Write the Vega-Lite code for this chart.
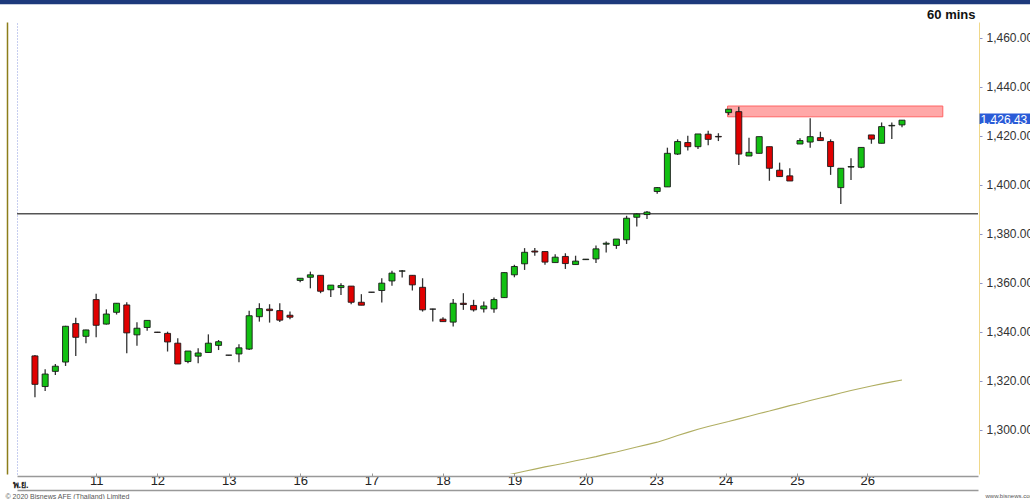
{
  "$schema": "https://vega.github.io/schema/vega-lite/v6.json",
  "width": 961,
  "height": 452,
  "autosize": {"type": "none"},
  "padding": {"left": 17, "top": 22, "right": 52, "bottom": 25},
  "background": "white",
  "config": {"view": {"stroke": null}, "font": "Liberation Sans", "scale": {"continuousPadding": 0}},
  "title": {"text": "SET", "anchor": "start", "frame": "group", "orient": "top", "fontSize": 14, "fontWeight": "bold", "color": "#111", "baseline": "alphabetic", "offset": 4, "dx": -3, "font": "Liberation Sans"},
  "datasets": {
    "candles": [
      {"i":0,"o":1330.2,"h":1330.6,"l":1313.3,"c":1318.6},
      {"i":1,"o":1317.7,"h":1324.8,"l":1315.9,"c":1322.8},
      {"i":2,"o":1323.9,"h":1326.9,"l":1322.4,"c":1326.0},
      {"i":3,"o":1327.7,"h":1342.5,"l":1326.1,"c":1342.3},
      {"i":4,"o":1343.4,"h":1345.8,"l":1330.2,"c":1337.8},
      {"i":5,"o":1338.2,"h":1340.9,"l":1335.4,"c":1340.8},
      {"i":6,"o":1353.2,"h":1355.6,"l":1337.8,"c":1342.7},
      {"i":7,"o":1343.2,"h":1349.2,"l":1343.0,"c":1347.3},
      {"i":8,"o":1348.0,"h":1351.8,"l":1347.1,"c":1351.7},
      {"i":9,"o":1351.0,"h":1352.1,"l":1331.3,"c":1339.6},
      {"i":10,"o":1338.8,"h":1343.9,"l":1334.4,"c":1341.5},
      {"i":11,"o":1341.8,"h":1344.7,"l":1340.5,"c":1344.7},
      {"i":12,"o":1339.9,"h":1340.0,"l":1339.7,"c":1339.8},
      {"i":13,"o":1339.4,"h":1340.1,"l":1332.0,"c":1335.9},
      {"i":14,"o":1335.4,"h":1337.4,"l":1326.9,"c":1326.9},
      {"i":15,"o":1327.9,"h":1332.2,"l":1327.2,"c":1332.2},
      {"i":16,"o":1330.1,"h":1333.3,"l":1327.2,"c":1331.4},
      {"i":17,"o":1331.6,"h":1339.0,"l":1331.6,"c":1335.4},
      {"i":18,"o":1334.5,"h":1336.7,"l":1332.6,"c":1336.0},
      {"i":19,"o":1330.5,"h":1330.6,"l":1330.4,"c":1330.5},
      {"i":20,"o":1331.0,"h":1335.0,"l":1327.6,"c":1333.5},
      {"i":21,"o":1333.0,"h":1348.6,"l":1332.6,"c":1346.6},
      {"i":22,"o":1346.2,"h":1351.7,"l":1344.2,"c":1349.5},
      {"i":23,"o":1349.3,"h":1351.3,"l":1343.8,"c":1348.7},
      {"i":24,"o":1348.7,"h":1351.7,"l":1344.0,"c":1344.8},
      {"i":25,"o":1346.8,"h":1348.3,"l":1345.2,"c":1346.0},
      {"i":26,"o":1361.0,"h":1361.9,"l":1360.3,"c":1361.9},
      {"i":27,"o":1362.3,"h":1364.6,"l":1357.8,"c":1363.3},
      {"i":28,"o":1363.1,"h":1363.1,"l":1355.8,"c":1356.6},
      {"i":29,"o":1357.2,"h":1359.1,"l":1354.2,"c":1359.1},
      {"i":30,"o":1358.1,"h":1359.9,"l":1355.1,"c":1358.9},
      {"i":31,"o":1358.7,"h":1358.7,"l":1351.3,"c":1352.1},
      {"i":32,"o":1352.1,"h":1355.4,"l":1350.9,"c":1350.9},
      {"i":33,"o":1356.2,"h":1356.3,"l":1356.1,"c":1356.2},
      {"i":34,"o":1356.9,"h":1361.9,"l":1352.0,"c":1359.9},
      {"i":35,"o":1360.8,"h":1365.0,"l":1358.8,"c":1364.0},
      {"i":36,"o":1364.8,"h":1365.3,"l":1362.2,"c":1364.9},
      {"i":37,"o":1363.1,"h":1363.1,"l":1356.9,"c":1359.2},
      {"i":38,"o":1358.2,"h":1361.9,"l":1348.3,"c":1349.0},
      {"i":39,"o":1349.3,"h":1349.5,"l":1344.2,"c":1349.3},
      {"i":40,"o":1345.2,"h":1346.0,"l":1344.2,"c":1344.2},
      {"i":41,"o":1344.0,"h":1353.4,"l":1342.2,"c":1351.7},
      {"i":42,"o":1351.7,"h":1355.8,"l":1349.0,"c":1351.2},
      {"i":43,"o":1350.8,"h":1353.1,"l":1348.3,"c":1349.0},
      {"i":44,"o":1349.4,"h":1352.4,"l":1347.9,"c":1350.6},
      {"i":45,"o":1349.4,"h":1354.0,"l":1347.8,"c":1353.2},
      {"i":46,"o":1354.0,"h":1364.4,"l":1353.8,"c":1364.2},
      {"i":47,"o":1363.3,"h":1367.4,"l":1362.3,"c":1366.7},
      {"i":48,"o":1367.8,"h":1374.2,"l":1365.3,"c":1372.5},
      {"i":49,"o":1373.0,"h":1374.2,"l":1371.1,"c":1372.6},
      {"i":50,"o":1372.8,"h":1372.8,"l":1367.4,"c":1368.5},
      {"i":51,"o":1368.3,"h":1371.7,"l":1368.3,"c":1370.5},
      {"i":52,"o":1370.8,"h":1372.1,"l":1365.7,"c":1367.9},
      {"i":53,"o":1367.5,"h":1371.1,"l":1367.5,"c":1368.9},
      {"i":54,"o":1369.5,"h":1369.8,"l":1369.4,"c":1369.7},
      {"i":55,"o":1369.8,"h":1375.3,"l":1368.1,"c":1373.9},
      {"i":56,"o":1375.8,"h":1376.9,"l":1372.4,"c":1376.2},
      {"i":57,"o":1375.3,"h":1377.9,"l":1373.9,"c":1377.9},
      {"i":58,"o":1377.6,"h":1387.4,"l":1375.9,"c":1386.4},
      {"i":59,"o":1386.8,"h":1388.5,"l":1383.0,"c":1388.1},
      {"i":60,"o":1387.9,"h":1389.4,"l":1386.1,"c":1388.9},
      {"i":61,"o":1397.3,"h":1399.2,"l":1396.4,"c":1398.9},
      {"i":62,"o":1399.2,"h":1415.2,"l":1399.2,"c":1412.9},
      {"i":63,"o":1412.6,"h":1418.6,"l":1412.2,"c":1417.7},
      {"i":64,"o":1417.3,"h":1420.1,"l":1414.0,"c":1415.6},
      {"i":65,"o":1415.6,"h":1420.8,"l":1414.7,"c":1420.8},
      {"i":66,"o":1420.7,"h":1422.1,"l":1416.2,"c":1418.6},
      {"i":67,"o":1419.8,"h":1421.1,"l":1417.9,"c":1419.6},
      {"i":68,"o":1429.5,"h":1430.9,"l":1428.5,"c":1430.9},
      {"i":69,"o":1429.9,"h":1431.9,"l":1408.1,"c":1412.6},
      {"i":70,"o":1411.8,"h":1419.3,"l":1411.8,"c":1413.3},
      {"i":71,"o":1412.9,"h":1419.7,"l":1412.9,"c":1419.7},
      {"i":72,"o":1415.6,"h":1415.6,"l":1401.7,"c":1406.8},
      {"i":73,"o":1406.0,"h":1409.1,"l":1403.4,"c":1403.4},
      {"i":74,"o":1403.7,"h":1406.8,"l":1401.6,"c":1401.6},
      {"i":75,"o":1416.7,"h":1419.0,"l":1416.7,"c":1418.1},
      {"i":76,"o":1417.5,"h":1427.2,"l":1415.2,"c":1419.7},
      {"i":77,"o":1419.3,"h":1421.7,"l":1418.1,"c":1418.1},
      {"i":78,"o":1417.7,"h":1418.6,"l":1404.1,"c":1407.5},
      {"i":79,"o":1398.9,"h":1406.8,"l":1392.2,"c":1406.8},
      {"i":80,"o":1407.3,"h":1410.9,"l":1402.0,"c":1407.5},
      {"i":81,"o":1407.2,"h":1415.3,"l":1406.8,"c":1415.3},
      {"i":82,"o":1420.4,"h":1420.4,"l":1416.8,"c":1418.7},
      {"i":83,"o":1417.0,"h":1425.5,"l":1417.0,"c":1423.8},
      {"i":84,"o":1424.1,"h":1425.5,"l":1418.7,"c":1424.3},
      {"i":85,"o":1424.5,"h":1426.5,"l":1423.5,"c":1426.43}
    ],
    "ma": [
      {"i":46,"ma":1281.3},{"i":47,"ma":1282.2},{"i":48,"ma":1283.1},{"i":49,"ma":1284.0},{"i":50,"ma":1284.9},
      {"i":51,"ma":1285.7},{"i":52,"ma":1286.5},{"i":53,"ma":1287.4},{"i":54,"ma":1288.2},{"i":55,"ma":1289.1},
      {"i":56,"ma":1290.1},{"i":57,"ma":1291.0},{"i":58,"ma":1292.0},{"i":59,"ma":1293.0},{"i":60,"ma":1294.0},
      {"i":61,"ma":1295.0},{"i":62,"ma":1296.3},{"i":63,"ma":1297.7},{"i":64,"ma":1299.0},{"i":65,"ma":1300.3},
      {"i":66,"ma":1301.4},{"i":67,"ma":1302.4},{"i":68,"ma":1303.4},{"i":69,"ma":1304.5},{"i":70,"ma":1305.6},
      {"i":71,"ma":1306.7},{"i":72,"ma":1307.7},{"i":73,"ma":1308.8},{"i":74,"ma":1309.9},{"i":75,"ma":1310.9},
      {"i":76,"ma":1312.0},{"i":77,"ma":1313.0},{"i":78,"ma":1314.0},{"i":79,"ma":1315.1},{"i":80,"ma":1316.1},
      {"i":81,"ma":1317.0},{"i":82,"ma":1317.9},{"i":83,"ma":1318.8},{"i":84,"ma":1319.6},{"i":85,"ma":1320.4}
    ],
    "level": [{"price": 1388.2}],
    "zone": [{"start": 67.9, "end": 89.0, "low": 1427.8, "high": 1432.2}],
    "last": [{"price": 1426.43, "label": "1,426.43"}]
  },
  "layer": [
    {
      "data": {"values": [{}]},
      "mark": {"type": "rect", "color": "#1d3a7c", "clip": false},
      "encoding": {
        "x": {"datum": -3.5, "type": "quantitative", "axis": null},
        "x2": {"datum": 97.6},
        "y": {"datum": 1473.7, "type": "quantitative", "axis": null},
        "y2": {"datum": 1475.8}
      }
    },
    {
      "data": {"name": "zone"},
      "mark": {"type": "rect", "fill": "#ffa8a8", "stroke": "#ff6464", "strokeWidth": 1},
      "encoding": {
        "x": {"field": "start", "type": "quantitative", "axis": null},
        "x2": {"field": "end"},
        "y": {"field": "low", "type": "quantitative", "axis": null},
        "y2": {"field": "high"}
      }
    },
    {
      "data": {"name": "level"},
      "mark": {"type": "rule", "color": "#555555", "strokeWidth": 1.6},
      "encoding": {
        "y": {"field": "price", "type": "quantitative", "axis": null}
      }
    },
    {
      "data": {"name": "ma"},
      "mark": {"type": "line", "color": "#b0ae62", "strokeWidth": 1.1, "clip": true},
      "encoding": {
        "x": {"field": "i", "type": "quantitative", "axis": {"orient": "bottom", "offset": 16, "labels": false, "ticks": false, "domain": false, "grid": false, "title": "www.bisnews.com", "titleX": 968, "titleY": 5, "titleAlign": "left", "titleBaseline": "middle", "titleFontSize": 6, "titleFontWeight": "normal", "titleColor": "#555555"}},
        "y": {"field": "ma", "type": "quantitative", "axis": {"orient": "left", "offset": 10, "labels": false, "ticks": false, "grid": false, "domainColor": "#8c7d1a", "domainWidth": 1.5, "title": null}}
      }
    },
    {
      "data": {"name": "candles"},
      "mark": {"type": "rule", "color": "#333333", "strokeWidth": 1.3},
      "encoding": {
        "x": {"field": "i", "type": "quantitative", "scale": {"domain": [-1.76, 92.45], "nice": false, "zero": false, "padding": 0},
          "axis": {"orient": "bottom", "offset": 2, "values": [6, 12, 19, 26, 33, 40, 47, 54, 60.9, 67.7, 74.7, 81.6],
            "labelExpr": "['11','12','13','16','17','18','19','20','23','24','25','26'][indexof([6,12,19,26,33,40,47,54,61,68,75,82], round(datum.value))]",
            "labelFontSize": 13, "labelColor": "#222222", "labelPadding": 1, "labelFont": "Liberation Sans",
            "domainColor": "#999999", "domainWidth": 1.5, "tickColor": "#999999", "tickSize": -3, "grid": false,
            "title": "พ.ย.", "titleX": -5, "titleY": 8, "titleAlign": "left", "titleBaseline": "middle", "titleFontSize": 9, "titleFontWeight": "bold", "titleColor": "#222222"}},
        "y": {"field": "l", "type": "quantitative", "scale": {"domain": [1282, 1466.5], "nice": false, "zero": false},
          "axis": {"orient": "right", "values": [1300, 1320, 1340, 1360, 1380, 1400, 1420, 1440, 1460], "format": ",.2f",
            "labelFontSize": 12, "labelColor": "#333333", "labelFont": "Liberation Sans", "labelPadding": 4,
            "grid": false, "domainColor": "#f0d88a", "tickColor": "#8a94c8", "tickSize": 3, "offset": 1,
            "title": "60 mins", "titleAngle": 0, "titleAlign": "right", "titleBaseline": "alphabetic", "titleX": -4, "titleY": -4,
            "titleFontSize": 13, "titleFontWeight": "bold", "titleColor": "#111111"}},
        "y2": {"field": "h"}
      }
    },
    {
      "data": {"name": "candles"},
      "mark": {"type": "bar", "size": 6, "stroke": "#1a1a1a", "strokeWidth": 0.9},
      "encoding": {
        "x": {"field": "i", "type": "quantitative", "axis": {"orient": "bottom", "offset": 16, "labels": false, "ticks": false, "grid": false, "domainColor": "#999999", "domainWidth": 1.5,
          "title": "© 2020 Bisnews AFE (Thailand) Limited", "titleX": -12, "titleY": 6, "titleAlign": "left", "titleBaseline": "middle", "titleFontSize": 7, "titleFontWeight": "normal", "titleColor": "#555555"}},
        "y": {"field": "o", "type": "quantitative", "axis": {"orient": "left", "labels": false, "ticks": false, "grid": false, "domainColor": "#8f9ce0", "domainDash": [1, 2], "title": null}},
        "y2": {"field": "c"},
        "color": {"condition": {"test": "datum.c >= datum.o", "value": "#12c012"}, "value": "#e00000"}
      }
    },
    {
      "data": {"name": "last"},
      "mark": {"type": "rect", "color": "#2a5bd7", "clip": false},
      "encoding": {
        "x": {"datum": 92.6, "type": "quantitative", "axis": null},
        "x2": {"datum": 97.6},
        "y": {"datum": 1424.9, "type": "quantitative", "axis": null},
        "y2": {"datum": 1429.1}
      }
    },
    {
      "data": {"name": "last"},
      "mark": {"type": "text", "color": "white", "align": "left", "baseline": "middle", "fontSize": 12, "font": "Liberation Sans", "clip": false},
      "encoding": {
        "x": {"datum": 92.7, "type": "quantitative", "axis": null},
        "y": {"field": "price", "type": "quantitative", "axis": null},
        "text": {"field": "label"}
      }
    }
  ],
  "resolve": {"axis": {"x": "independent", "y": "independent"}}
}
